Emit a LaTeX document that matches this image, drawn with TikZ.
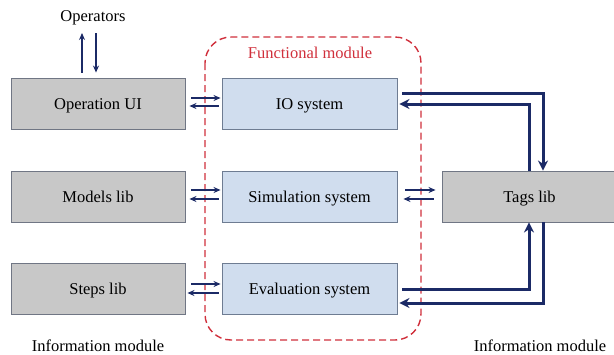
\documentclass[tikz,border=0pt]{standalone}
\usepackage{fontspec}
\setmainfont{Liberation Serif}
\usetikzlibrary{arrows.meta,calc}
\definecolor{navy}{HTML}{1B2A66}
\definecolor{grayfill}{HTML}{C8C8C8}
\definecolor{grayedge}{HTML}{707684}
\definecolor{bluefill}{HTML}{D0DDEE}
\definecolor{blueedge}{HTML}{6E7C92}
\definecolor{redd}{HTML}{D0303C}
\tikzset{
  base/.style={minimum height=51pt,inner sep=0pt,font=\fontsize{16.5}{18}\selectfont,line width=0.9pt,text height=11.5pt,text depth=0pt},
  graybox/.style={base,draw=grayedge,fill=grayfill,minimum width=174pt},
  bluebox/.style={base,draw=blueedge,fill=bluefill,minimum width=175pt},
  lbl/.style={font=\fontsize{16.5}{18}\selectfont,inner sep=0pt,text height=11.5pt,text depth=0pt},
  thinarr/.style={draw=navy,line width=1.5pt,-{Stealth[length=7pt,width=6pt]}},
  thickarr/.style={draw=navy,line width=3pt,-{Stealth[length=10pt,width=10pt]}},
  module/.style={draw=redd,line width=1.4pt,dash pattern=on 7pt off 4pt,rounded corners=26pt}
}
\begin{document}
\begin{tikzpicture}[x=1pt,y=-1pt]
\useasboundingbox (0,0) rectangle (614,354);
% functional module frame
\draw[module] (205,37) rectangle (421,340);
\node[lbl,text=redd] (fm) at (310,53) {Functional module};
% boxes
\node[graybox] (ui) at (98,103.5) {Operation UI};
\node[graybox] (models) at (98,196.5) {Models lib};
\node[graybox] (steps) at (98,288.5) {Steps lib};
\node[bluebox] (io) at (309.5,103.5) {IO system};
\node[bluebox] (sim) at (309.5,196.5) {Simulation system};
\node[bluebox] (eval) at (309.5,288.5) {Evaluation system};
\node[graybox,minimum width=175pt] (tags) at (529.5,196.5) {Tags lib};
% texts
\node[lbl] (ops) at (93,16) {Operators};
\node[lbl] (infl) at (98,346) {Information module};
\node[lbl] (infr) at (540,346) {Information module};
% operators arrows
\coordinate (opsup) at (82,33);
\coordinate (opsdn) at (96,33);
\draw[thinarr] ($(ui.north)+(-16,-5)$) -- (opsup);
\draw[thinarr] (opsdn) -- ($(ui.north)+(-2,-5)$);
% left pairs
\draw[thinarr] ($(ui.east)+(6,-5.5)$) -- ($(io.west)+(-1,-5.5)$);
\draw[thinarr] ($(io.west)+(-3,2.5)$) -- ($(ui.east)+(4,2.5)$);
\draw[thinarr] ($(models.east)+(6,-6.5)$) -- ($(sim.west)+(-1,-6.5)$);
\draw[thinarr] ($(sim.west)+(-3,2.5)$) -- ($(models.east)+(4,2.5)$);
\draw[thinarr] ($(steps.east)+(6,-4.5)$) -- ($(eval.west)+(-1,-4.5)$);
\draw[thinarr,line width=2.2pt] ($(eval.west)+(-3,4.5)$) -- ($(steps.east)+(2,4.5)$);
% sim - tags
\draw[thinarr] ($(sim.east)+(8,-6.5)$) -- ($(tags.west)+(-6,-6.5)$);
\draw[thinarr] ($(tags.west)+(-8,2.5)$) -- ($(sim.east)+(6,2.5)$);
% io - tags
\draw[thickarr] ($(io.east)+(5,-10.5)$) -| ($(tags.north)+(13.5,0)$);
\draw[thickarr] ($(tags.north)+(-0.5,0)$) |- ($(io.east)+(2,0.5)$);
% eval - tags
\draw[thickarr] ($(eval.east)+(5,0.5)$) -| ($(tags.south)+(-0.5,0)$);
\draw[thickarr] ($(tags.south)+(13.5,0)$) |- ($(eval.east)+(2,14.5)$);
\end{tikzpicture}
\end{document}
